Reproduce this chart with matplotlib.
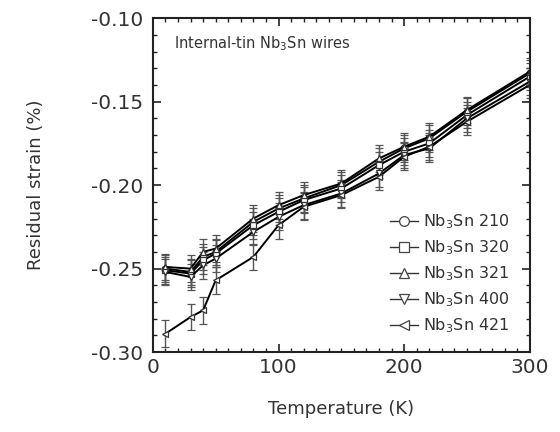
import matplotlib
matplotlib.use("Agg")
import matplotlib.pyplot as plt
from matplotlib.ticker import MultipleLocator
from matplotlib.lines import Line2D

plt.rcParams['font.family'] = ['DejaVu Sans']
plt.rcParams['mathtext.default'] = 'regular'

# temperatures (K)
temps = [10, 30, 40, 50, 80, 100, 120, 150, 180, 200, 220, 250, 300]

# residual strain (%) per wire
s210 = [-0.250, -0.252, -0.243, -0.240, -0.222, -0.214, -0.208, -0.200, -0.186, -0.178, -0.172, -0.156, -0.133]
s320 = [-0.251, -0.253, -0.245, -0.241, -0.224, -0.216, -0.209, -0.202, -0.188, -0.180, -0.175, -0.158, -0.135]
s321 = [-0.249, -0.250, -0.240, -0.238, -0.220, -0.212, -0.206, -0.199, -0.184, -0.177, -0.171, -0.155, -0.132]
s400 = [-0.252, -0.255, -0.248, -0.244, -0.228, -0.219, -0.212, -0.205, -0.193, -0.182, -0.178, -0.160, -0.138]
s421 = [-0.289, -0.279, -0.275, -0.257, -0.243, -0.224, -0.213, -0.206, -0.195, -0.183, -0.177, -0.162, -0.140]
err = 0.008

series = [
    ('Nb$_3$Sn 210', s210, 'o'),
    ('Nb$_3$Sn 320', s320, 's'),
    ('Nb$_3$Sn 321', s321, '^'),
    ('Nb$_3$Sn 400', s400, 'v'),
    ('Nb$_3$Sn 421', s421, '<'),
]

fig = plt.figure(figsize=(5.6, 4.32), dpi=100)
ax = fig.add_axes([0.273, 0.185, 0.673, 0.773])

handles = []
for label, vals, mk in series:
    ax.errorbar(temps, vals, yerr=err, color='black', lw=1.4, marker=mk,
                markersize=5, markerfacecolor='white', markeredgecolor='#333333',
                markeredgewidth=0.9, ecolor='#555555', elinewidth=1.0,
                capsize=3, capthick=1.0)
    handles.append(Line2D([], [], color='#333333', lw=1.0, marker=mk,
                          markersize=7, markerfacecolor='white',
                          markeredgecolor='#444444', markeredgewidth=0.9,
                          label=label))

ax.set_xlim(0, 300)
ax.set_ylim(-0.30, -0.10)
ax.xaxis.set_major_locator(MultipleLocator(100))
ax.xaxis.set_minor_locator(MultipleLocator(10))
ax.yaxis.set_major_locator(MultipleLocator(0.05))
ax.yaxis.set_minor_locator(MultipleLocator(0.01))
ax.yaxis.set_major_formatter(plt.FuncFormatter(lambda v, p: f'{v:.2f}'))
ax.tick_params(which='both', direction='in', top=True, right=True,
               colors='#222222', labelcolor='#333333')
ax.tick_params(which='major', length=6, width=1.2, labelsize=14.5)
ax.tick_params(axis='y', which='major', pad=7)
ax.tick_params(axis='x', which='major', pad=4)
ax.tick_params(which='minor', length=3, width=1.0)
for sp in ax.spines.values():
    sp.set_linewidth(1.5)
    sp.set_color('#222222')

ax.set_xlabel('Temperature (K)', fontsize=13, color='#333333', labelpad=17)
ax.set_ylabel('Residual strain (%)', fontsize=13, color='#333333', labelpad=33)

ax.text(0.055, 0.925, 'Internal-tin Nb$_3$Sn wires', transform=ax.transAxes,
        fontsize=10.5, color='#333333', va='center', ha='left')

ax.legend(handles=handles, loc='lower right', bbox_to_anchor=(0.985, 0.008),
          frameon=False, fontsize=11.5, handlelength=1.8, handletextpad=0.3,
          labelspacing=0.45, labelcolor='#333333')

fig.savefig('out.png', dpi=100)
